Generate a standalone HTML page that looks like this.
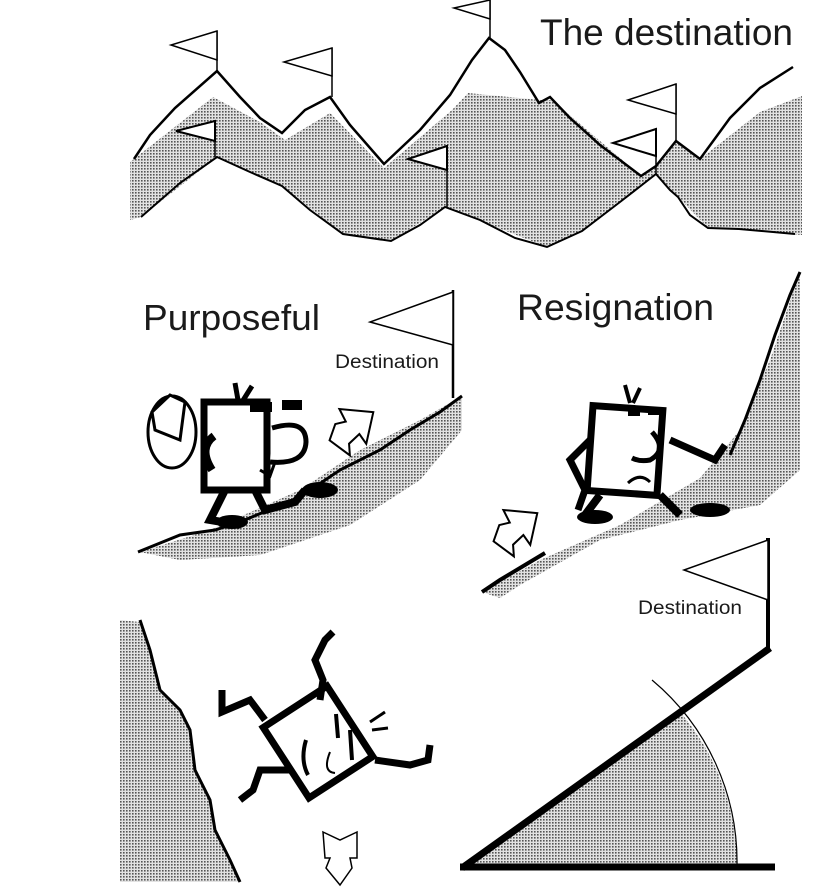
<!DOCTYPE html>
<html><head><meta charset="utf-8"><style>
html,body{margin:0;padding:0;background:#fff}
svg{display:block}
text{font-family:"Liberation Sans",Arial,sans-serif;fill:#1a1a1a}
</style></head><body>
<svg width="836" height="890" viewBox="0 0 836 890" xmlns="http://www.w3.org/2000/svg">
<defs>
<pattern id="dots" width="3" height="3" patternUnits="userSpaceOnUse">
<rect width="3" height="3" fill="#e2e2e2"/><rect width="1.6" height="1.6" fill="#555"/>
</pattern>
</defs>

<!-- TOP MOUNTAINS -->
<path d="M130,162 L213,97 L260,122 L285,140 L330,113 L384,168 L452,110 L468,93 L540,100 L552,100 L641,176 L656,166 L676,141 L700,159 L760,112 L802,96 L802,235 L739,229 L708,228 L678,197 L656,174 L582,231 L547,247 L445,207 L391,241 L343,234 L282,186 L217,157 L141,217 L130,220 Z" fill="url(#dots)"/>
<polyline points="134,159 150,135 175,108 217,71 240,97 260,118 282,133 305,110 330,97 350,125 384,164 420,130 450,95 472,60 489,38 505,50 520,72 539,103 550,97 570,118 600,145 641,176 656,166 676,141 700,159 730,118 760,88 793,67" fill="none" stroke="#000" stroke-width="2.5"/>
<polyline points="141,217 180,183 217,157 250,172 282,186 310,210 343,234 391,241 420,225 445,207 480,220 515,238 547,247 582,231 620,202 656,174 670,190 678,197 690,215 708,228 739,229 795,234" fill="none" stroke="#000" stroke-width="2"/>
<g fill="#fff" stroke="#000" stroke-width="1.5">
<line x1="217" y1="31" x2="217" y2="71"/><polygon points="217,31 171,45 217,60"/>
<line x1="332" y1="48" x2="332" y2="97"/><polygon points="332,48 284,62 332,76"/>
<line x1="490" y1="0" x2="490" y2="38"/><polygon points="490,0 454,8 490,19"/>
<line x1="215" y1="121" x2="215" y2="157"/><polygon points="215,121 176,131 215,141" stroke-width="2"/>
<line x1="447" y1="145" x2="447" y2="207"/><polygon points="447,146 408,159 447,170" stroke-width="2"/>
<line x1="676" y1="84" x2="676" y2="141"/><polygon points="676,84 628,100 676,114"/>
<line x1="656" y1="128" x2="656" y2="174"/><polygon points="656,129 613,143 656,156" stroke-width="2"/>
</g>
<text x="540" y="45" font-size="37" textLength="253" lengthAdjust="spacingAndGlyphs">The destination</text>

<!-- MIDDLE LEFT -->
<path d="M140,552 L210,530 L300,490 L360,450 L420,420 L462,396 L462,430 L420,480 L350,525 L260,555 L180,560 Z" fill="url(#dots)"/>
<polyline points="138,552 180,535 215,530 240,522 300,497 340,470 380,450 410,430 440,412 462,396" fill="none" stroke="#000" stroke-width="3"/>
<line x1="453" y1="290" x2="453" y2="398" stroke="#000" stroke-width="2.5"/>
<polygon points="453,292 370,322 453,345" fill="#fff" stroke="#000" stroke-width="1.5"/>
<text x="335" y="368" font-size="19" textLength="104" lengthAdjust="spacingAndGlyphs">Destination</text>
<text x="143" y="330" font-size="36" textLength="177" lengthAdjust="spacingAndGlyphs">Purposeful</text>
<!-- hiker -->
<ellipse cx="172" cy="432" rx="24" ry="36" fill="#fff" stroke="#000" stroke-width="3"/>
<path d="M152,412 L170,395 L185,402 L180,440 L155,430 Z" fill="#fff" stroke="#000" stroke-width="3"/>
<rect x="204" y="402" width="63" height="88" fill="#fff" stroke="#000" stroke-width="7"/>
<path d="M214,436 Q198,448 212,470" fill="none" stroke="#000" stroke-width="8"/>
<rect x="250" y="402" width="22" height="10" fill="#000"/><rect x="282" y="400" width="20" height="10" fill="#000"/>
<path d="M235,383 L238,400 M252,386 L242,402" stroke="#000" stroke-width="5"/>
<path d="M272,428 Q306,418 306,442 Q305,465 270,462" fill="#fff" stroke="#000" stroke-width="5"/>
<path d="M260,470 L270,476 L275,462" fill="none" stroke="#000" stroke-width="3"/>
<path d="M225,490 L210,520 L240,525 M255,490 L265,510 L295,502 L305,490" fill="none" stroke="#000" stroke-width="8"/>
<ellipse cx="232" cy="522" rx="16" ry="7" fill="#000"/>
<ellipse cx="320" cy="490" rx="18" ry="8" fill="#000"/>
<g transform="translate(352,427) rotate(-35)">
<path d="M-26,-2 L-12,-12 L-2,-8 L0,-22 L26,0 L2,22 L2,10 L-12,12 L-18,22 Z" fill="#fff" stroke="#000" stroke-width="2"/>
</g>

<!-- MIDDLE RIGHT -->
<path d="M482,592 L540,560 L620,525 L700,478 L740,430 L770,360 L800,272 L800,470 L760,505 L680,520 L600,540 L520,585 L500,598 Z" fill="url(#dots)"/>
<polyline points="482,592 500,580 545,553" fill="none" stroke="#000" stroke-width="4"/>
<polyline points="730,455 745,420 760,380 775,335 790,295 800,272" fill="none" stroke="#000" stroke-width="3"/>
<text x="517" y="320" font-size="37" textLength="197" lengthAdjust="spacingAndGlyphs">Resignation</text>
<rect x="590" y="408" width="70" height="85" fill="#fff" stroke="#000" stroke-width="7" transform="rotate(4 625 450)"/>
<rect x="628" y="408" width="12" height="8" fill="#000"/><rect x="648" y="407" width="12" height="8" fill="#000"/>
<path d="M625,385 L630,403 M640,388 L633,403" stroke="#000" stroke-width="4"/>
<path d="M652,432 Q668,450 650,460 Q640,462 632,458" fill="none" stroke="#000" stroke-width="5"/>
<path d="M628,483 Q640,472 650,482" fill="none" stroke="#000" stroke-width="3"/>
<path d="M590,440 L570,460 L585,490 L578,510" fill="none" stroke="#000" stroke-width="7"/>
<path d="M670,440 L715,460 L725,445" fill="none" stroke="#000" stroke-width="7"/>
<path d="M600,495 L585,515 M660,495 L680,515" stroke="#000" stroke-width="8"/>
<ellipse cx="595" cy="517" rx="18" ry="7" fill="#000"/>
<ellipse cx="710" cy="510" rx="20" ry="7" fill="#000"/>
<g transform="translate(516,528) rotate(-35)">
<path d="M-26,-2 L-12,-12 L-2,-8 L0,-22 L26,0 L2,22 L2,10 L-12,12 L-18,22 Z" fill="#fff" stroke="#000" stroke-width="2"/>
</g>

<!-- BOTTOM RIGHT -->
<line x1="768" y1="538" x2="768" y2="650" stroke="#000" stroke-width="4"/>
<polygon points="768,540 684,570 768,600" fill="#fff" stroke="#000" stroke-width="1.5"/>
<text x="638" y="614" font-size="19" textLength="104" lengthAdjust="spacingAndGlyphs">Destination</text>
<path d="M466,866 L680,712 A237,237 0 0 1 737,866 Z" fill="url(#dots)"/>
<path d="M652,680 A237,237 0 0 1 737,866" fill="none" stroke="#000" stroke-width="1.2"/>
<line x1="462" y1="868" x2="770" y2="648" stroke="#000" stroke-width="7"/>
<line x1="460" y1="867" x2="775" y2="867" stroke="#000" stroke-width="7"/>

<!-- BOTTOM LEFT -->
<path d="M120,620 L140,622 L150,650 L160,690 L180,710 L190,730 L195,770 L210,800 L215,830 L230,860 L240,882 L120,882 Z" fill="url(#dots)"/>
<polyline points="140,620 150,650 160,690 180,710 190,730 195,770 210,800 215,830 230,860 240,882" fill="none" stroke="#000" stroke-width="3"/>
<g transform="rotate(-33 318 742)">
<rect x="280" y="700" width="76" height="84" fill="#fff" stroke="#000" stroke-width="7"/>
</g>
<path d="M336,714 L338,738 M350,730 L352,760 M306,740 Q300,760 308,775" fill="none" stroke="#000" stroke-width="4"/>
<path d="M330,752 Q322,772 335,773" fill="none" stroke="#000" stroke-width="2"/>
<path d="M370,722 L385,712 M372,730 L388,728" stroke="#000" stroke-width="3"/>
<path d="M320,700 L323,680 L315,660 L325,640 L333,632" fill="none" stroke="#000" stroke-width="7"/>
<path d="M265,720 L250,700 L222,712 L222,690" fill="none" stroke="#000" stroke-width="7"/>
<path d="M290,770 L260,770 L253,790 L240,800" fill="none" stroke="#000" stroke-width="7"/>
<path d="M375,760 L410,765 L428,760 L430,745" fill="none" stroke="#000" stroke-width="7"/>
<path d="M323,832 L340,840 L357,832 L357,858 L350,858 L352,868 L340,885 L326,868 L330,858 L325,858 Z" fill="#fff" stroke="#000" stroke-width="1.5"/>
</svg>
</body></html>
